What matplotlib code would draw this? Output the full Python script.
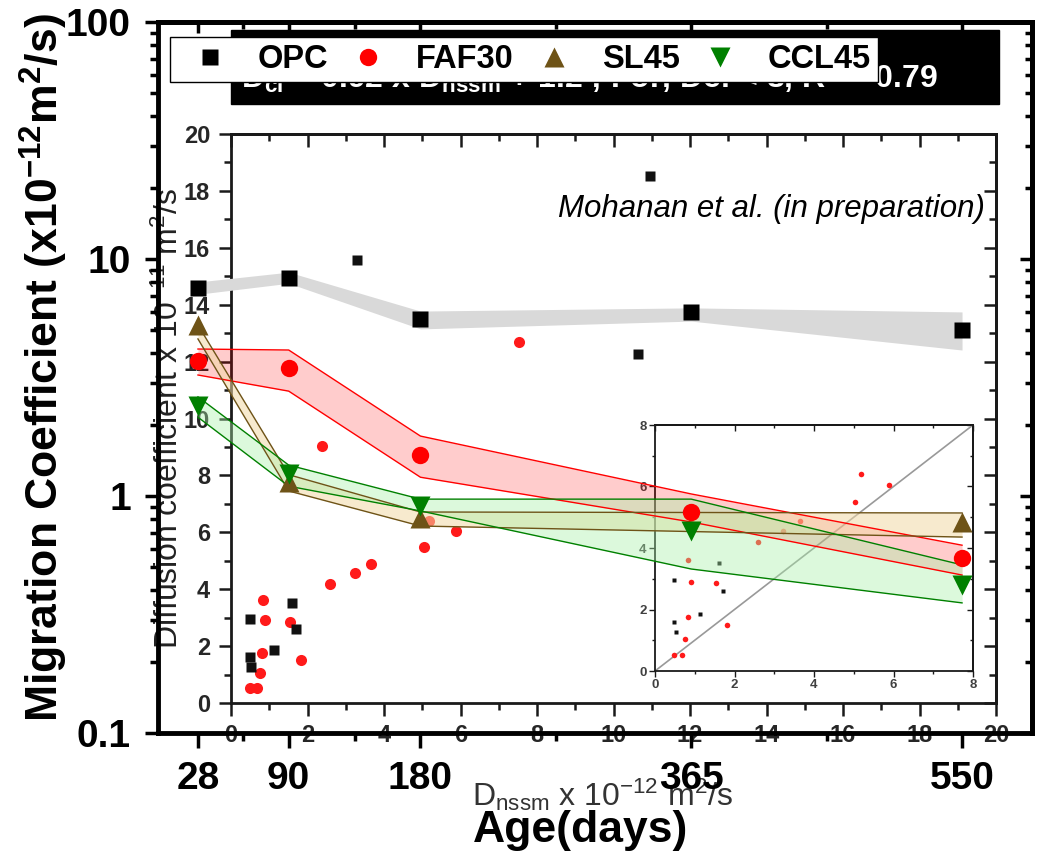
import matplotlib
matplotlib.use("Agg")
import matplotlib.pyplot as plt
from matplotlib.patches import Rectangle
from matplotlib.ticker import FixedLocator, LogLocator, NullFormatter

plt.rcParams['font.family'] = ['Liberation Sans', 'DejaVu Sans']
plt.rcParams['mathtext.fontset'] = 'custom'
plt.rcParams['mathtext.rm'] = 'Liberation Sans'
plt.rcParams['mathtext.default'] = 'regular'

# ---- main chart: migration coefficient vs age ----
ages = [28, 90, 180, 365, 550]
age_minor = [59, 135, 272.5, 457.5]
age_labels = ['28', '90', '180', '365', '550']

opc = [7.55, 8.3, 5.58, 5.98, 5.0]
opc_hi = [8.0, 8.8, 6.03, 6.22, 5.98]
opc_lo = [7.1, 7.9, 5.07, 5.47, 4.13]

faf = [3.71, 3.47, 1.49, 0.855, 0.55]
faf_hi = [4.17, 4.13, 1.79, 1.02, 0.62]
faf_lo = [3.24, 2.77, 1.20, 0.777, 0.464]

sl_ages = [28, 90, 180, 550]
sl = [5.26, 1.15, 0.81, 0.78]
sl_hi = [5.26, 1.23, 0.856, 0.848]
sl_lo = [4.6, 1.05, 0.747, 0.671]

ccl = [2.4, 1.24, 0.91, 0.71, 0.42]
ccl_hi = [2.62, 1.35, 0.97, 0.97, 0.512]
ccl_lo = [2.15, 1.10, 0.865, 0.492, 0.354]

# ---- background chart: diffusion coefficient vs D_nssm ----
red_x = [0.49, 0.69, 0.75, 0.82, 0.83, 0.90, 1.53, 1.82, 2.38, 2.60, 3.23, 3.65, 5.04, 5.18, 5.88, 7.53]
red_y = [0.52, 0.53, 1.05, 1.77, 3.61, 2.91, 2.85, 1.50, 9.05, 4.19, 4.56, 4.87, 5.48, 6.41, 6.06, 12.69]
blk_x = [0.49, 0.49, 0.52, 1.13, 1.60, 1.70, 3.29, 10.64, 10.96]
blk_y = [2.97, 1.60, 1.27, 1.86, 3.51, 2.59, 15.56, 12.27, 18.54]

W, H = 1054, 855
BROWN = '#6E5317'
GREEN = '#008000'


def rect(l, t, r, b):
  """pixel box (top-left origin) -> figure fraction rect"""
  return [l / W, 1 - b / H, (r - l) / W, (b - t) / H]


def style_box(a, lw, tick_w, maj, mnr, lab_size, lab_col, pad, major, minor, lim):
  """Origin-like frame: ticks out on left/bottom, in on top/right"""
  a.set_xlim(lim)
  a.set_ylim(lim)
  for s in a.spines.values():
    s.set_linewidth(lw)
    s.set_color('#1a1a1a')
  a.set_xticks(major)
  a.set_yticks(major)
  a.set_xticks(minor, minor=True)
  a.set_yticks(minor, minor=True)
  a.tick_params(which='both', direction='out', width=tick_w, colors='#1a1a1a',
                labelsize=lab_size, labelcolor=lab_col, pad=pad)
  a.tick_params(which='major', length=maj)
  a.tick_params(which='minor', length=mnr)
  plt.setp(a.get_xticklabels() + a.get_yticklabels(), fontweight='bold')
  sx = a.secondary_xaxis('top')
  sx.set_xticks(major)
  sx.set_xticks(minor, minor=True)
  sx.tick_params(which='both', direction='in', width=tick_w, labeltop=False, colors='#1a1a1a')
  sx.tick_params(which='major', length=maj)
  sx.tick_params(which='minor', length=mnr)
  sx.spines['top'].set_linewidth(lw)
  sy = a.secondary_yaxis('right')
  sy.set_yticks(major)
  sy.set_yticks(minor, minor=True)
  sy.tick_params(which='both', direction='in', width=tick_w, labelright=False, colors='#1a1a1a')
  sy.tick_params(which='major', length=maj)
  sy.tick_params(which='minor', length=mnr)
  sy.spines['right'].set_linewidth(lw)


fig = plt.figure(figsize=(W / 100, H / 100), dpi=100)

# background scatter chart
ax_bg = fig.add_axes(rect(231, 134, 996, 703), zorder=1)
style_box(ax_bg, 2.0, 1.8, 9, 5, 17, '#262626', 6,
          list(range(0, 21, 2)), list(range(1, 20, 2)), (0, 20))
ax_bg.plot(red_x, red_y, 'o', color='#ff1a1a', ms=8, mec='none')
ax_bg.plot(blk_x, blk_y, 's', color='#111111', ms=7, mec='none')
ax_bg.text(19.7, 17.1, 'Mohanan et al. (in preparation)', style='italic',
           fontsize=22.5, ha='right', va='baseline')
fig.text(169 / W, 1 - 419 / H, r'Diffusion coefficient x 10$^{-11}$ m$^2$/s',
         rotation=90, ha='center', va='center', fontsize=23, color='#222222', zorder=1.5)
fig.text(472 / W, 1 - 806 / H, r'D$_{nssm}$ x 10$^{-12}$ m$^2$/s',
         ha='left', va='baseline', fontsize=23, color='#333333', zorder=1.5)

# inset of the background chart
ax_in = fig.add_axes(rect(655, 425, 973, 671), zorder=2)
style_box(ax_in, 1.3, 1.0, 4, 2.5, 9.5, '#404040', 2,
          [0, 2, 4, 6, 8], [1, 3, 5, 7], (0, 8))
ax_in.plot([0, 8], [0, 8], color='#999999', lw=1.2)
ax_in.plot(red_x, red_y, 'o', color='#ff1a1a', ms=4, mec='none')
ax_in.plot(blk_x, blk_y, 's', color='#111111', ms=3.5, mec='none')

# black equation strip
fig.add_artist(Rectangle((231 / W, 1 - 104 / H), (999 - 231) / W, (104 - 30) / H,
                         transform=fig.transFigure, color='black', zorder=2.5))
fig.text(938 / W, 1 - 88 / H,
         r'D$_{cl}$ = 0.92 x D$_{nssm}$ + 1.2 ; For, Dcl < 8, R$^2$ = 0.79',
         color='white', fontweight='bold', fontsize=23, ha='right', va='baseline',
         zorder=2.6)

# main chart on top
ax = fig.add_axes(rect(158, 22, 1032, 733), zorder=3)
ax.set_facecolor('none')
ax.set_yscale('log')
ax.set_xlim(0.7, 597.8)
ax.set_ylim(0.1, 100)

ax.fill_between(ages, opc_lo, opc_hi, color='#d9d9d9', lw=0, zorder=1)
ax.fill_between(ages, faf_lo, faf_hi, color='red', alpha=0.2, lw=0, zorder=1)
ax.fill_between(sl_ages, sl_lo, sl_hi, color='#f2d9a6', alpha=0.55, lw=0, zorder=1)
ax.fill_between(ages, ccl_lo, ccl_hi, color='#a8f0a8', alpha=0.4, lw=0, zorder=1)
for xs, lo, hi, c in [(ages, faf_lo, faf_hi, 'red'), (sl_ages, sl_lo, sl_hi, BROWN),
                      (ages, ccl_lo, ccl_hi, GREEN)]:
  ax.plot(xs, lo, color=c, lw=1, zorder=2)
  ax.plot(xs, hi, color=c, lw=1, zorder=2)

ax.plot(ages, opc, 's', color='black', ms=11.5, mec='none', zorder=5, label='OPC')
ax.plot(ages, faf, 'o', color='red', ms=12.5, mec='none', zorder=5, label='FAF30')
ax.plot(sl_ages, sl, '^', color=BROWN, ms=14, mec='none', zorder=5, label='SL45')
ax.plot(ages, ccl, 'v', color=GREEN, ms=14, mec='none', zorder=5, label='CCL45')

for s in ax.spines.values():
  s.set_linewidth(3.5)
ax.set_xticks(ages)
ax.set_xticklabels(age_labels)
ax.set_xticks(age_minor, minor=True)
ax.yaxis.set_major_locator(FixedLocator([0.1, 1, 10, 100]))
ax.set_yticklabels(['0.1', '1', '10', '100'])
ax.yaxis.set_minor_locator(LogLocator(subs=range(2, 10)))
ax.yaxis.set_minor_formatter(NullFormatter())
ax.tick_params(which='both', direction='out', width=2.5, labelsize=28)
ax.tick_params(axis='x', which='major', length=11, pad=9)
ax.tick_params(axis='x', which='minor', length=6)
ax.tick_params(axis='y', which='major', length=9.5, pad=10)
ax.tick_params(axis='y', which='minor', length=6)
plt.setp(ax.get_xticklabels() + ax.get_yticklabels(), fontweight='bold')

top = ax.secondary_xaxis('top')
top.set_xticks(ages)
top.set_xticks(age_minor, minor=True)
top.tick_params(which='both', direction='in', width=2.5, labeltop=False)
top.tick_params(which='major', length=8)
top.tick_params(which='minor', length=5)
top.spines['top'].set_linewidth(3.5)

right = ax.secondary_yaxis('right')
right.yaxis.set_major_locator(FixedLocator([0.1, 1, 10, 100]))
right.yaxis.set_minor_locator(LogLocator(subs=range(2, 10)))
right.yaxis.set_minor_formatter(NullFormatter())
right.tick_params(which='both', direction='in', width=2.5, labelright=False)
right.tick_params(which='major', length=9)
right.tick_params(which='minor', length=5)
right.spines['right'].set_linewidth(3.5)

fig.text(44 / W, 1 - 368 / H, r'Migration Coefficient (x10$^{-12}$m$^2$/s)',
         rotation=90, ha='center', va='center', fontsize=32, fontweight='bold', zorder=4)
fig.text(581 / W, 1 - 842 / H, 'Age(days)', ha='center', va='baseline',
         fontsize=32, fontweight='bold', zorder=4)

ax.legend(loc='upper left', bbox_to_anchor=(170 / W, 1 - 37 / H),
          bbox_transform=fig.transFigure, ncol=4, frameon=True, fancybox=False,
          edgecolor='black', framealpha=1, borderaxespad=0, borderpad=0.22,
          handlelength=2, handletextpad=0.45, columnspacing=0.25,
          prop={'weight': 'bold', 'size': 23.5})

fig.savefig('out.png', dpi=100)
